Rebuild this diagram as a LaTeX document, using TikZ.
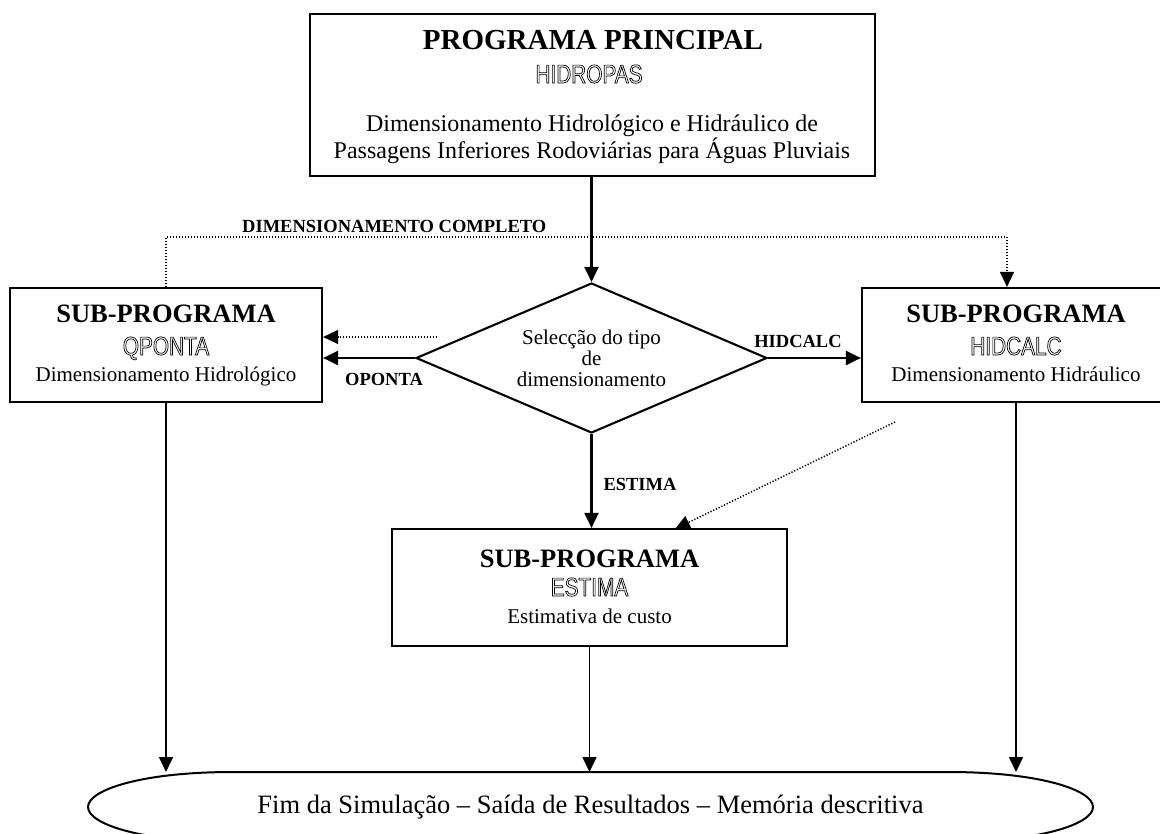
\documentclass[tikz,border=0pt]{standalone}
\usepackage{fontspec}
\setmainfont{Liberation Serif}
\newfontfamily\outfont[FakeStretch=0.8]{Liberation Sans}
\usetikzlibrary{arrows.meta,shapes.geometric}
\newcommand\outlinetext[1]{\special{pdf:literal direct 1 Tr 0.7 w}#1\special{pdf:literal direct 0 Tr}}
\tikzset{
  boxstyle/.style={draw, line width=2.2pt, inner sep=0pt},
  arr/.style={line width=2.1pt, -{Triangle[length=15pt,width=14pt]}},
  thinarr/.style={line width=1.7pt, -{Triangle[length=15pt,width=14pt]}},
  dotarr/.style={line width=1.5pt, dash pattern=on 1.2pt off 1.8pt, -{Triangle[length=15pt,width=14pt]}},
  titlefont/.style={anchor=base, inner sep=0pt, font=\fontsize{29}{29}\selectfont\bfseries},
  subfont/.style={anchor=base, inner sep=0pt, font=\fontsize{26.5}{26.5}\selectfont\bfseries},
  outfontst/.style={anchor=base, inner sep=0pt, font=\outfont\fontsize{26}{26}\selectfont},
  bodyfont/.style={anchor=base, inner sep=0pt, font=\fontsize{21}{21}\selectfont},
  topbody/.style={anchor=base, inner sep=0pt, font=\fontsize{24}{24}\selectfont},
  lblfont/.style={anchor=base, inner sep=0pt, font=\fontsize{18.5}{18.5}\selectfont\bfseries}
}
\begin{document}
\begin{tikzpicture}[x=1pt,y=-1pt]
\useasboundingbox (0,0) rectangle (1160,834);
\clip (0,0) rectangle (1160,834);

% top box
\node[boxstyle, minimum width=565pt, minimum height=162pt] (top) at (592.5,95) {};
\node[titlefont] (topt1) at (593,50) {PROGRAMA PRINCIPAL};
\node[outfontst] (topt2) at (589,83) {\outlinetext{HIDROPAS}};
\node[topbody] (topt3) at (592,132) {Dimensionamento Hidrológico e Hidráulico de};
\node[topbody] (topt4) at (592,159) {Passagens Inferiores Rodoviárias para Águas Pluviais};

% left box
\node[boxstyle, minimum width=312pt, minimum height=114pt] (qponta) at (166,345) {};
\node[subfont] (qt1) at (166,323) {SUB-PROGRAMA};
\node[outfontst] (qt2) at (166,355) {\outlinetext{QPONTA}};
\node[bodyfont] (qt3) at (166,382) {Dimensionamento Hidrológico};

% right box
\node[boxstyle, minimum width=308pt, minimum height=114pt] (hidcalc) at (1016,345) {};
\node[subfont] (ht1) at (1016,323) {SUB-PROGRAMA};
\node[outfontst] (ht2) at (1016,355) {\outlinetext{HIDCALC}};
\node[bodyfont] (ht3) at (1016,382) {Dimensionamento Hidráulico};

% estima box
\node[boxstyle, minimum width=395pt, minimum height=117pt] (estima) at (589.5,587.5) {};
\node[subfont] (et1) at (589.5,567) {SUB-PROGRAMA};
\node[outfontst] (et2) at (589.5,596) {\outlinetext{ESTIMA}};
\node[bodyfont] (et3) at (589.5,623) {Estimativa de custo};

% decision diamond
\node[draw, diamond, aspect=2.34, line width=2.1pt, minimum width=351pt, minimum height=150pt,
      inner sep=0pt, align=center, font=\fontsize{21}{21}\selectfont] (sel) at (591.5,358)
      {Selecção do tipo\\de\\dimensionamento};

% final ellipse-like terminator
\coordinate (fimtop) at (590.5,772);
\draw[line width=2pt] (233,772) -- (948,772)
  .. controls (1040,772) and (1093,790) .. (1093,807)
  .. controls (1093,824) and (1040,842) .. (948,842)
  -- (233,842)
  .. controls (141,842) and (88,824) .. (88,807)
  .. controls (88,790) and (141,772) .. cycle;
\node[anchor=base, inner sep=0pt, font=\fontsize{26.5}{26.5}\selectfont] (fim) at (590.5,813)
  {Fim da Simulação – Saída de Resultados – Memória descritiva};

% connectors
\draw[arr] (sel.north |- top.south) -- (sel.north);
\draw[arr] (sel.west) -- (sel.west -| qponta.east);
\draw[arr] (sel.east) -- (sel.east -| hidcalc.west);
\draw[arr] (sel.south) -- (sel.south |- estima.north);

\coordinate (dq) at (437,337);
\draw[dotarr] (dq) -- (dq -| qponta.east);
\coordinate (dcr) at (1007,237);
\draw[dotarr] (qponta.north) |- (dcr) -- (dcr |- hidcalc.north);
\coordinate (dh) at (895,422);
\coordinate (de) at (675,529);
\draw[dotarr] (dh) -- (de);

\draw[thinarr] (qponta.south) -- (qponta.south |- fimtop);
\draw[thinarr] (estima.south) -- (estima.south |- fimtop);
\draw[thinarr] (hidcalc.south) -- (hidcalc.south |- fimtop);

% labels
\node[lblfont, anchor=base west] (lcomp) at (242,233) {DIMENSIONAMENTO COMPLETO};
\node[lblfont] (lqp) at (384,386) {OPONTA};
\node[lblfont] (lhc) at (798,348) {HIDCALC};
\node[lblfont] (les) at (640,490) {ESTIMA};
\end{tikzpicture}
\end{document}
